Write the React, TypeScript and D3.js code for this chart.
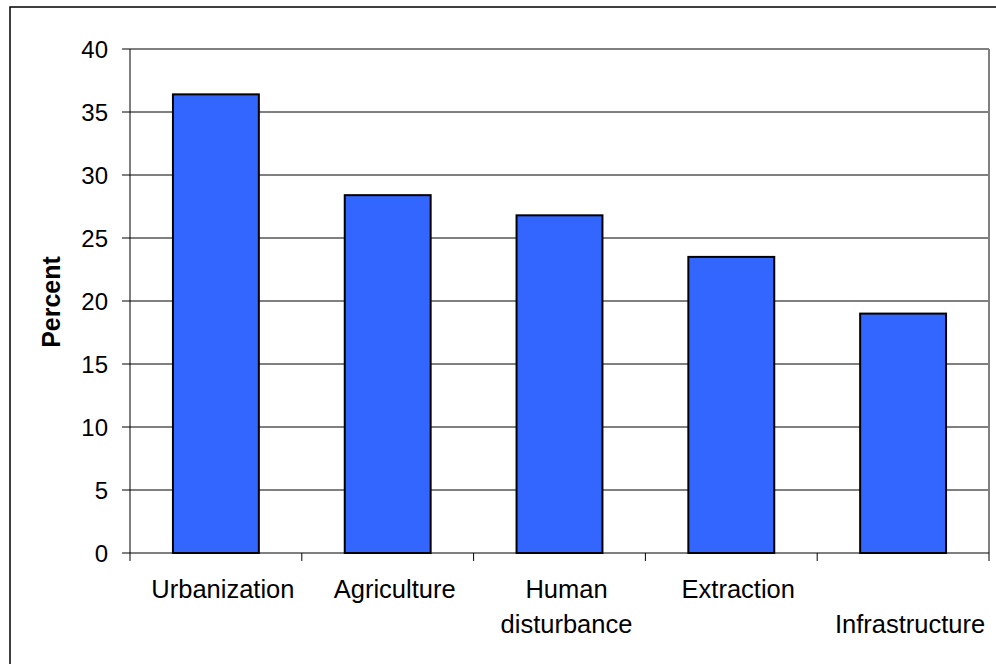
import React from "react";
import * as d3 from "d3";

const categories = ["Urbanization", "Agriculture", "Human disturbance", "Extraction", "Infrastructure"];
const labelLines = [["Urbanization"], ["Agriculture"], ["Human", "disturbance"], ["Extraction"], ["Infrastructure"]];
const labelRow = [0, 0, 0, 0, 1];
const values = [36.4, 28.4, 26.8, 23.5, 19.0];
const yTicks = [0, 5, 10, 15, 20, 25, 30, 35, 40];
const yTitle = "Percent";

export default function App() {
  const W = 996, H = 664;
  const left = 130, right = 989, top = 49, bottom = 553;
  const x = d3.scaleBand<string>().domain(categories).range([left, right]).paddingInner(0.5).paddingOuter(0.25);
  const xb = d3.scaleBand<string>().domain(categories).range([left, right]);
  const y = d3.scaleLinear().domain([0, 40]).range([bottom, top]);
  const font = "'Liberation Sans', Arial, sans-serif";
  return (
    <svg width={W} height={H} style={{ position: "absolute", left: 0, top: 0, background: "#fff" }} fontFamily={font}>
      <rect x={10} y={7} width={W + 20} height={H + 20} fill="#fff" stroke="#000" strokeWidth={1.5} />
      {yTicks.map((t) => (
        <g key={t}>
          {t > 0 && <line x1={left} x2={right} y1={y(t)} y2={y(t)} stroke="#000" strokeWidth={1} />}
          <line x1={left - 8} x2={left} y1={y(t)} y2={y(t)} stroke="#000" strokeWidth={1} />
          <text x={108} y={y(t)} dy="0.36em" textAnchor="end" fontSize={24} fill="#000">{t}</text>
        </g>
      ))}
      <line x1={right} x2={right} y1={top} y2={bottom} stroke="#808080" strokeWidth={2} />
      {categories.map((c, i) => (
        <rect key={c} x={x(c)} y={y(values[i])} width={x.bandwidth()} height={bottom - y(values[i])}
          fill="#3366FF" stroke="#000" strokeWidth={2} />
      ))}
      <line x1={left} x2={left} y1={top} y2={bottom + 8} stroke="#000" strokeWidth={1} />
      <line x1={left} x2={right} y1={bottom} y2={bottom} stroke="#000" strokeWidth={1} />
      {categories.map((c) => (
        <line key={"t" + c} x1={(xb(c) as number) + xb.bandwidth()} x2={(xb(c) as number) + xb.bandwidth()}
          y1={bottom} y2={bottom + 8} stroke="#000" strokeWidth={1} />
      ))}
      {categories.map((c, i) => (
        <text key={"l" + c} textAnchor="middle" fontSize={25.5} fill="#000">
          {labelLines[i].map((ln, j) => (
            <tspan key={j} x={(xb(c) as number) + xb.bandwidth() / 2 + 7} y={598 + (j + labelRow[i]) * 35}>{ln}</tspan>
          ))}
        </text>
      ))}
      <text transform={`translate(60,302) rotate(-90)`} textAnchor="middle" fontSize={25} fontWeight="bold" fill="#000">{yTitle}</text>
    </svg>
  );
}
